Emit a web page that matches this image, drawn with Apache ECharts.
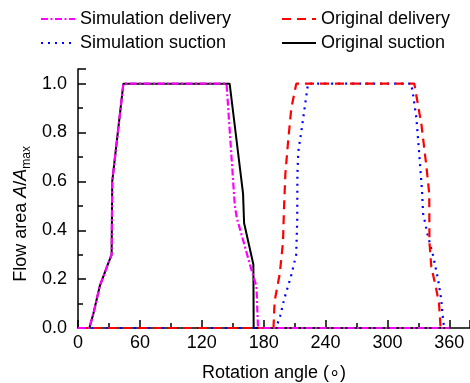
<!DOCTYPE html>
<html>
<head>
<meta charset="utf-8">
<script src="https://cdn.jsdelivr.net/npm/echarts@6/dist/echarts.min.js"></script>
<style>html,body{margin:0;padding:0;background:#fff}#c{width:470px;height:383px}</style>
</head>
<body>
<div id="c"></div>
<script>
// ---- data ----
var xTicks = [0, 60, 120, 180, 240, 300, 360];
var yTicks = [0.0, 0.2, 0.4, 0.6, 0.8, 1.0];

var simDeliveryX = [0, 11, 15, 21, 28, 32.6, 33.2, 44, 144, 152, 154, 168, 173, 174.5, 360];
var simDeliveryY = [0, 0, 0.06, 0.17, 0.25, 0.30, 0.60, 1.0, 1.0, 0.50, 0.45, 0.24, 0.17, 0, 0];

var simSuctionX = [0, 192, 196, 200, 207, 211.5, 212.5, 212.7, 213.5, 217, 220, 223, 323, 325, 328, 331, 333.5, 334.5, 339, 344, 349, 352, 354, 355, 360];
var simSuctionY = [0, 0, 0.05, 0.12, 0.22, 0.30, 0.44, 0.63, 0.72, 0.82, 0.91, 1.0, 1.0, 0.95, 0.86, 0.70, 0.56, 0.47, 0.38, 0.30, 0.20, 0.12, 0.03, 0, 0];

var origDeliveryX = [0, 189.5, 190.6, 195.5, 198.7, 199.7, 201, 203.6, 206.8, 211.6, 326, 333, 337.5, 340.5, 340.7, 342.5, 347, 350, 351.5, 360];
var origDeliveryY = [0, 0, 0.11, 0.22, 0.35, 0.49, 0.63, 0.76, 0.90, 1.0, 1.0, 0.83, 0.67, 0.55, 0.35, 0.25, 0.165, 0.10, 0, 0];

var origSuctionX = [0, 11, 15, 21, 28, 32.6, 33.2, 44, 147, 160, 161, 170, 170.3, 360];
var origSuctionY = [0, 0, 0.06, 0.17, 0.25, 0.30, 0.60, 1.0, 1.0, 0.55, 0.43, 0.26, 0, 0];

function pairs(xs, ys) { return xs.map(function (x, i) { return [x, ys[i]]; }); }

var FONT = "Arial, 'Liberation Sans', sans-serif";
var chart = echarts.init(document.getElementById('c'), null, { renderer: 'canvas' });

var legendCommon = {
  orient: 'vertical', top: 10, padding: 0, itemGap: 6, itemWidth: 34, itemHeight: 14,
  itemStyle: { opacity: 0 },
  textStyle: { fontFamily: FONT, fontSize: 18, color: '#000' }
};

chart.setOption({
  animation: false,
  backgroundColor: '#fff',
  legend: [
    Object.assign({ left: 40, data: ['Simulation delivery', 'Simulation suction'] }, legendCommon),
    Object.assign({ left: 281, data: ['Original delivery', 'Original suction'] }, legendCommon)
  ],
  graphic: [{
    type: 'text', left: 12, top: 146, rotation: Math.PI / 2,
    style: {
      text: '{n|Flow area }{i|A}{n|/}{i|A}{s|max}',
      font: '18px ' + FONT, fill: '#000',
      rich: {
        n: { fontFamily: FONT, fontSize: 18, fill: '#000', lineHeight: 24, verticalAlign: 'middle' },
        i: { fontFamily: FONT, fontSize: 18, fontStyle: 'italic', fill: '#000', lineHeight: 24, verticalAlign: 'middle' },
        s: { fontFamily: FONT, fontSize: 12, fill: '#000', lineHeight: 12, verticalAlign: 'bottom' }
      }
    }
  }],
  grid: { left: 78, right: 0, top: 69, bottom: 55, containLabel: false, outerBoundsMode: 'none' },
  xAxis: {
    type: 'value', min: 0, max: 380, interval: 60,
    name: 'Rotation angle (\u2218)', nameLocation: 'middle', nameGap: 36,
    nameTextStyle: { fontFamily: FONT, fontSize: 18, color: '#000' },
    axisLine: { show: true, lineStyle: { color: '#000', width: 1.5 } },
    axisTick: { inside: true, length: 8, lineStyle: { color: '#000', width: 1.5 } },
    minorTick: { show: true, splitNumber: 2, length: 5, lineStyle: { color: '#000', width: 1.5 } },
    splitLine: { show: false },
    axisLabel: {
      margin: 6, fontFamily: FONT, fontSize: 18, color: '#000',
      formatter: function (v) { return xTicks.indexOf(v) >= 0 ? String(v) : ''; }
    }
  },
  yAxis: {
    type: 'value', min: 0, max: 1.06, interval: 0.2,
    axisLine: { show: true, lineStyle: { color: '#000', width: 1.5 } },
    axisTick: { inside: true, length: 8, lineStyle: { color: '#000', width: 1.5 } },
    minorTick: { show: true, splitNumber: 2, length: 5, lineStyle: { color: '#000', width: 1.5 } },
    splitLine: { show: false },
    axisLabel: {
      margin: 11, fontFamily: FONT, fontSize: 18, color: '#000',
      formatter: function (v) {
        var r = Math.round(v * 10) / 10;
        return yTicks.indexOf(r) >= 0 && Math.abs(r - v) < 1e-6 ? r.toFixed(1) : '';
      }
    }
  },
  series: [
    { name: 'Original suction', type: 'line', data: pairs(origSuctionX, origSuctionY), symbol: 'none', z: 2,
      lineStyle: { color: '#000', width: 2, type: 'solid' }, itemStyle: { color: '#000' } },
    { name: 'Simulation suction', type: 'line', data: pairs(simSuctionX, simSuctionY), symbol: 'none', z: 3,
      lineStyle: { color: '#0000ff', width: 2.2, type: [2, 5] }, itemStyle: { color: '#0000ff' } },
    { name: 'Original delivery', type: 'line', data: pairs(origDeliveryX, origDeliveryY), symbol: 'none', z: 4,
      lineStyle: { color: '#ff0000', width: 2.2, type: [9, 6] }, itemStyle: { color: '#ff0000' } },
    { name: 'Simulation delivery', type: 'line', data: pairs(simDeliveryX, simDeliveryY), symbol: 'none', z: 5,
      lineStyle: { color: '#ff00ff', width: 2.2, type: [7, 2.5, 2, 2.5] }, itemStyle: { color: '#ff00ff' } }
  ]
});
</script>
</body>
</html>
